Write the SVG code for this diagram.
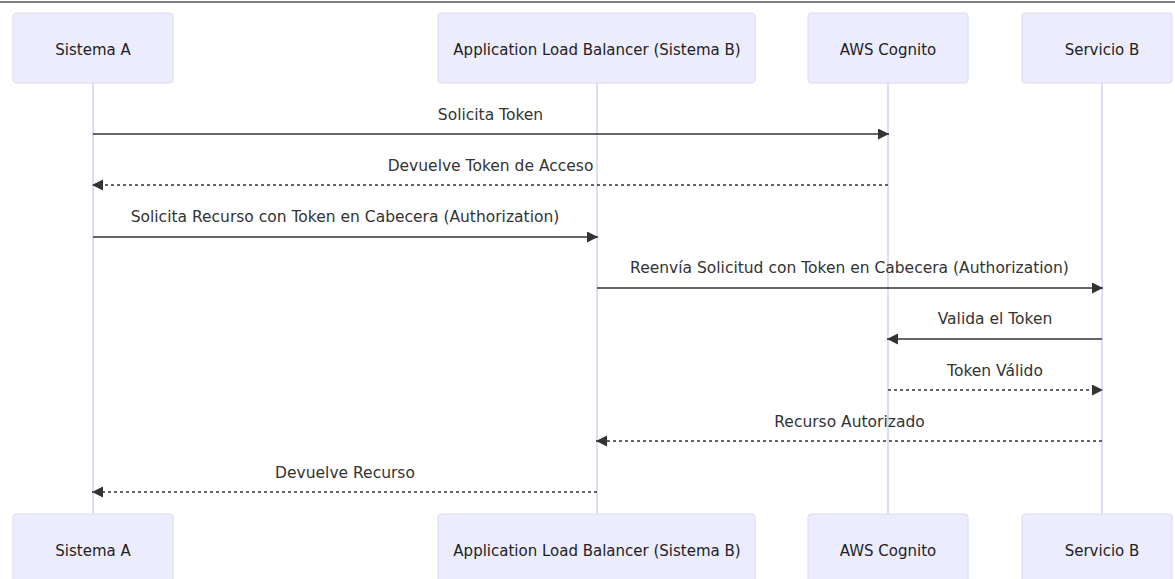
<svg xmlns="http://www.w3.org/2000/svg" width="1175" height="579" viewBox="0 0 1175 579">
<style>
.actor{fill:#ECECFF;stroke:#DCD8F6;stroke-width:1}
.atext{font-family:"DejaVu Sans",sans-serif;font-size:15px;fill:#222;text-anchor:middle}
.life{stroke:#D6CFF5;stroke-width:1.5;fill:none}
.msg{stroke:#333;stroke-width:1.5;fill:none}
.dot{stroke:#333;stroke-width:1.5;fill:none;stroke-dasharray:3,3}
.mtext{font-family:"DejaVu Sans",sans-serif;font-size:15.5px;fill:#333;text-anchor:middle}
</style>
<defs>
<marker id="arrow" markerUnits="userSpaceOnUse" markerWidth="12" markerHeight="12" refX="11" refY="5.5" orient="auto">
<path d="M0,0 L11,5.5 L0,11 z" fill="#333"/>
</marker>
</defs>
<rect width="1175" height="579" fill="#fff"/>
<line x1="0" y1="2" x2="1175" y2="2" stroke="#555" stroke-width="1.5"/>
<g id="lifelines">
<line class="life" x1="93" y1="83" x2="93" y2="514"/>
<line class="life" x1="597" y1="83" x2="597" y2="514"/>
<line class="life" x1="888" y1="83" x2="888" y2="514"/>
<line class="life" x1="1102" y1="83" x2="1102" y2="514"/>
</g>
<g id="sistemaA">
<rect class="actor" x="13" y="13" width="160" height="70" rx="3"/>
<text class="atext" x="93" y="55">Sistema A</text>
</g>
<g id="alb">
<rect class="actor" x="438" y="13" width="317" height="70" rx="3"/>
<text class="atext" x="597" y="55">Application Load Balancer (Sistema B)</text>
</g>
<g id="cognito">
<rect class="actor" x="808" y="13" width="160" height="70" rx="3"/>
<text class="atext" x="888" y="55">AWS Cognito</text>
</g>
<g id="servicioB">
<rect class="actor" x="1022" y="13" width="150" height="70" rx="3"/>
<text class="atext" x="1102" y="55">Servicio B</text>
</g>
<g id="sistemaA-bottom">
<rect class="actor" x="13" y="514" width="160" height="70" rx="3"/>
<text class="atext" x="93" y="556">Sistema A</text>
</g>
<g id="alb-bottom">
<rect class="actor" x="438" y="514" width="317" height="70" rx="3"/>
<text class="atext" x="597" y="556">Application Load Balancer (Sistema B)</text>
</g>
<g id="cognito-bottom">
<rect class="actor" x="808" y="514" width="160" height="70" rx="3"/>
<text class="atext" x="888" y="556">AWS Cognito</text>
</g>
<g id="servicioB-bottom">
<rect class="actor" x="1022" y="514" width="150" height="70" rx="3"/>
<text class="atext" x="1102" y="556">Servicio B</text>
</g>
<g id="connectors">
<line class="msg" x1="93" y1="134" x2="889" y2="134" marker-end="url(#arrow)"/>
<text class="mtext" x="490.5" y="120">Solicita Token</text>
<line class="dot" x1="888" y1="185" x2="92" y2="185" marker-end="url(#arrow)"/>
<text class="mtext" x="490.5" y="171">Devuelve Token de Acceso</text>
<line class="msg" x1="93" y1="237" x2="598" y2="237" marker-end="url(#arrow)"/>
<text class="mtext" x="345" y="222">Solicita Recurso con Token en Cabecera (Authorization)</text>
<line class="msg" x1="597" y1="288" x2="1103" y2="288" marker-end="url(#arrow)"/>
<text class="mtext" x="849.5" y="273">Reenvía Solicitud con Token en Cabecera (Authorization)</text>
<line class="msg" x1="1102" y1="339" x2="887" y2="339" marker-end="url(#arrow)"/>
<text class="mtext" x="995" y="324">Valida el Token</text>
<line class="dot" x1="888" y1="390" x2="1103" y2="390" marker-end="url(#arrow)"/>
<text class="mtext" x="995" y="376">Token Válido</text>
<line class="dot" x1="1102" y1="441" x2="596" y2="441" marker-end="url(#arrow)"/>
<text class="mtext" x="849.5" y="427">Recurso Autorizado</text>
<line class="dot" x1="597" y1="492" x2="92" y2="492" marker-end="url(#arrow)"/>
<text class="mtext" x="345" y="478">Devuelve Recurso</text>
</g>
</svg>
